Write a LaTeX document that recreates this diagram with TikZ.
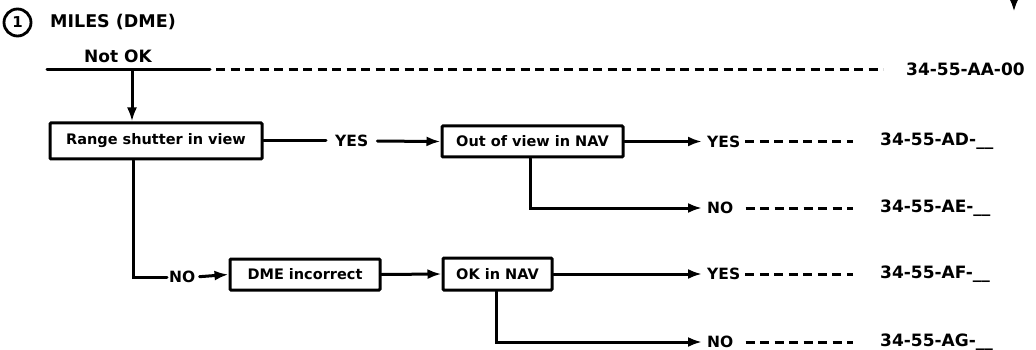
\documentclass[tikz,border=0pt]{standalone}
\usepackage{fontspec}
\setmainfont{DejaVu Sans}
\usetikzlibrary{arrows.meta}
\tikzset{
  flow/.style={line width=3pt, line cap=round},
  arr/.style={flow, -{Latex[length=14pt,width=10pt]}},
  lead/.style={line width=3pt, dash pattern=on 9pt off 5.5pt},
  stepbox/.style={draw, line width=3pt, rounded corners=1pt, inner sep=0pt,
    font=\fontsize{14.5}{16}\selectfont\bfseries},
  answer/.style={inner sep=0pt, anchor=west, font=\fontsize{15.5}{17}\selectfont\bfseries},
  code/.style={inner sep=0pt, anchor=west, font=\fontsize{17}{19}\selectfont\bfseries},
}
\newcommand{\blank}{\_\_}
\begin{document}
\begin{tikzpicture}[x=1pt,y=-1pt]
\useasboundingbox (0,0) rectangle (1036,350);

% heading
\node[draw, circle, line width=2.8pt, minimum size=27pt, inner sep=0pt,
  font=\fontsize{15}{16}\selectfont\bfseries] (num) at (17.5,22.5) {1};
\node[anchor=west, inner sep=0pt, font=\fontsize{17.5}{19}\selectfont\bfseries] (title) at (50,22.5) {MILES (DME)};

% arrow continuing from above
\coordinate (topin) at (1014,-4);
\coordinate (topout) at (1014,12);
\draw[flow, -{Latex[length=13pt,width=9pt]}] (topin) -- (topout);

% "Not OK" entry line
\coordinate (na) at (47,70);
\coordinate (nb) at (210,70);
\coordinate (nd) at (132,70);
\node[inner sep=0pt, font=\fontsize{17}{19}\selectfont\bfseries] (notok) at (118,56) {Not OK};
\draw[flow] (na) -- (nb);
\node[code] (cAA) at (906,69) {34-55-AA-00};
\draw[lead, shorten <=6pt, shorten >=23pt] (nb) -- (cAA.west |- nb);

% boxes
\node[stepbox, minimum width=212pt, minimum height=36pt] (range) at (156,141) {Range shutter in view};
\node[stepbox, minimum width=181pt, minimum height=31pt] (outv) at (532.5,141.5) {Out of view in NAV};
\node[stepbox, minimum width=150pt, minimum height=31pt] (dme) at (305,274.5) {DME incorrect};
\node[stepbox, minimum width=109pt, minimum height=32pt] (oknav) at (497.5,274) {OK in NAV};

\draw[arr] (nd) -- (nd |- range.north);

% range shutter branches
\node[answer] (y1) at (335,141) {YES};
\draw[flow] (range.east) -- ([xshift=-9pt]y1.west);
\draw[arr, shorten <=9pt] (y1.east) -- (outv.west);

\coordinate (rdown) at (133,277);
\node[answer] (n1) at (169,277) {NO};
\draw[flow] (range.south -| rdown) -- (rdown) -- ([xshift=-2pt]n1.west);
\draw[arr, shorten <=4pt] (n1.east) -- (dme.west);
\draw[arr] (dme.east) -- (oknav.west);

% out of view in NAV outcomes
\node[answer] (y2) at (707,141.5) {YES};
\node[code] (cAD) at (880,141.5) {34-55-AD-\blank};
\draw[arr, shorten >=5pt] (outv.east) -- (y2.west);
\draw[lead, shorten <=5pt, shorten >=27pt] (y2.east) -- (cAD.west);

\coordinate (odown) at (530,208);
\node[answer] (n2) at (707,208) {NO};
\node[code] (cAE) at (880,208) {34-55-AE-\blank};
\draw[arr, shorten >=5pt] (outv.south -| odown) -- (odown) -- (n2.west);
\draw[lead, shorten <=12pt, shorten >=27pt] (n2.east) -- (cAE.west);

% OK in NAV outcomes
\node[answer] (y3) at (707,274) {YES};
\node[code] (cAF) at (880,274) {34-55-AF-\blank};
\draw[arr, shorten >=5pt] (oknav.east) -- (y3.west);
\draw[lead, shorten <=5pt, shorten >=27pt] (y3.east) -- (cAF.west);

\coordinate (kdown) at (496,342);
\node[answer] (n3) at (707,342) {NO};
\node[code] (cAG) at (880,342) {34-55-AG-\blank};
\draw[arr, shorten >=5pt] (oknav.south -| kdown) -- (kdown) -- (n3.west);
\draw[lead, shorten <=12pt, shorten >=27pt] (n3.east) -- (cAG.west);
\end{tikzpicture}
\end{document}
